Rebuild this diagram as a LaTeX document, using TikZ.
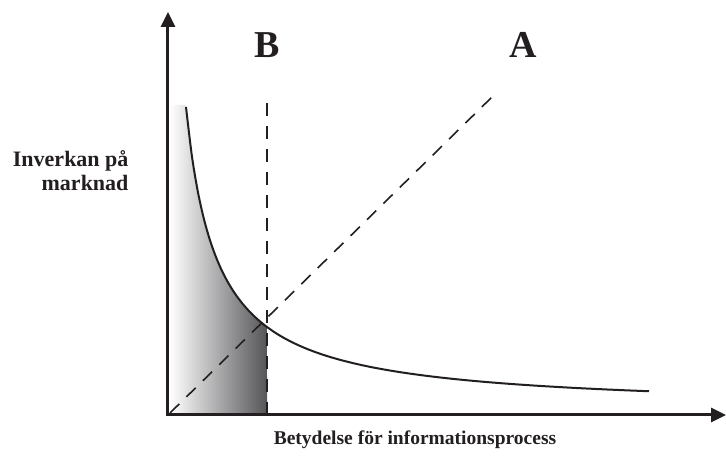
\documentclass[tikz,border=0pt]{standalone}
\usepackage{fontspec}
\setmainfont{Liberation Serif}
\usepackage{tikz}
\usetikzlibrary{arrows.meta,positioning}
\definecolor{axisBlack}{RGB}{35,31,32}
\definecolor{shadeDark}{RGB}{85,85,88}

\begin{document}
\begin{tikzpicture}[x=1pt,y=1pt,
    axis/.style={axisBlack, line width=3pt, -{Triangle[length=15pt,width=14pt]}},
    guide/.style={axisBlack, line width=1.6pt, dash pattern=on 13pt off 10pt},
    lbl/.style={text=axisBlack, font=\bfseries\fontsize{22}{24}\selectfont},
    big/.style={text=axisBlack, font=\bfseries\fontsize{38}{40}\selectfont}]
\useasboundingbox (-168,-53) rectangle (558,415);

% shaded area under the curve
\shade[left color=white, right color=shadeDark]
  (2,0) -- (2,310) -- (18,310) -- plot[domain=18:99, samples=40] (\x,{5+9260/(\x+12.56)}) -- (99,0) -- cycle;

% axes
\coordinate (O) at (0,0);
\coordinate (ytip) at (0,403);
\coordinate (xtip) at (558,0);
\draw[axis] (0,-1.5) -- (ytip);
\draw[axis] (-1.5,0) -- (xtip);

% guide lines
\coordinate (Bbot) at (99,0);
\coordinate (Btop) at (99,320);
\coordinate (Abot) at (2,2);
\coordinate (Atop) at (324,318);
\draw[guide] (Bbot) -- (Btop);
\draw[guide] (Abot) -- (Atop);

% curve
\draw[axisBlack, line width=2pt] plot[domain=18:481, samples=80, smooth] (\x,{5+9260/(\x+12.56)});

\node[big] (labB) at (99,370) {B};
\node[big] (labA) at (355,370) {A};
\node[lbl, align=right, anchor=east] (ylab) at (-36,244) {Inverkan på\\marknad};
\node[lbl, font=\bfseries\fontsize{19.5}{22}\selectfont] (xlab) at (247,-25) {Betydelse för informationsprocess};
\end{tikzpicture}
\end{document}
